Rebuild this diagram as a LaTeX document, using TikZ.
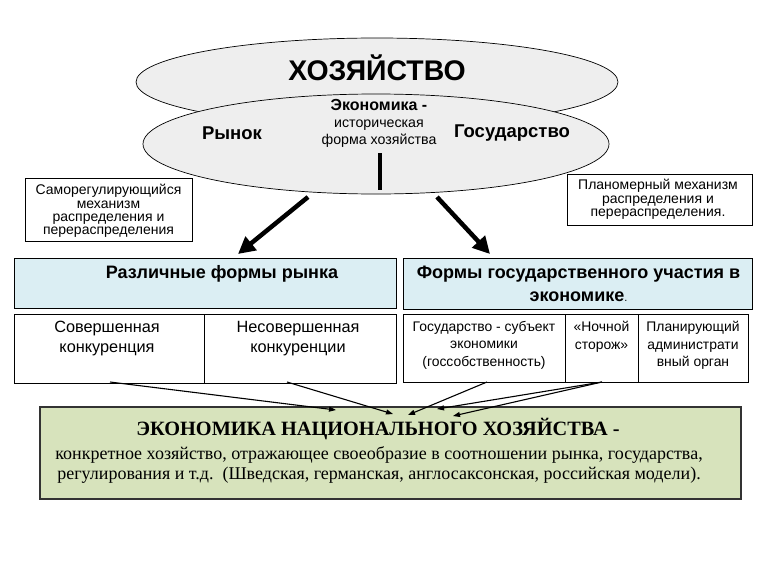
\documentclass[tikz,border=0pt]{standalone}
\usepackage{fontspec}
\setmainfont{Liberation Sans}
\newfontfamily\seriffont{Liberation Serif}
\usetikzlibrary{arrows.meta,shapes.geometric}
\definecolor{ellfill}{HTML}{EEEEEE}
\definecolor{bluefill}{HTML}{DBEEF3}
\definecolor{greenfill}{HTML}{D7E3BC}
\definecolor{edgegray}{HTML}{333333}
\begin{document}
\begin{tikzpicture}[x=1pt,y=-1pt,
  ell/.style={ellipse, draw=black, line width=0.7pt, fill=ellfill, inner sep=0pt},
  plainbox/.style={draw=black, line width=0.8pt, fill=white, inner sep=0pt},
  bluebox/.style={draw=black, line width=0.8pt, fill=bluefill, inner sep=0pt},
  greenbox/.style={draw=edgegray, line width=1.2pt, fill=greenfill, inner sep=0pt},
  txt/.style={inner sep=0pt, align=center},
  toptxt/.style={inner sep=0pt, align=center, anchor=north},
  bigarrow/.style={line width=4.5pt, -{Triangle[length=17pt,width=17pt]}},
  thinarrow/.style={line width=1.1pt, -{Triangle[length=7pt,width=5pt]}}
]
\useasboundingbox (0,0) rectangle (771,573);
\fill[white] (0,0) rectangle (771,573);

% ellipses
\node[ell, minimum width=482pt, minimum height=88pt] (hoz) at (377,82) {};
\node[txt, font=\fontsize{28.4}{32}\selectfont\bfseries] (hoztxt) at (377,68) {ХОЗЯЙСТВО};
\node[ell, minimum width=466pt, minimum height=100pt] (eco) at (376,144) {};
\node[txt, font=\fontsize{16}{19}\selectfont\bfseries] (ecotitle) at (379,105) {Экономика -};
\node[txt, font=\fontsize{14.2}{17}\selectfont] (ecotxt) at (379,134) {историческая\\форма хозяйства};
\node[txt, font=\fontsize{18.5}{22}\selectfont\bfseries] (market) at (232,133) {Рынок};
\node[txt, font=\fontsize{18.5}{22}\selectfont\bfseries] (state) at (512,133) {Государство};

% vertical bar
\coordinate (vtop) at (380,153);
\coordinate (vbot) at (380,190);
\draw[line width=4pt] (vtop) -- (vbot);

% side boxes
\node[plainbox, minimum width=167pt, minimum height=63pt] (selfreg) at (108.5,209.5) {};
\node[txt, font=\fontsize{14}{13.2}\selectfont] (selfregtxt) at (108.5,211) {Саморегулирующийся\\механизм\\распределения и\\перераспределения};
\node[plainbox, minimum width=185pt, minimum height=51pt] (plan) at (659.5,199.5) {};
\node[txt, font=\fontsize{14}{13.5}\selectfont] (plantxt) at (658,199.5) {Планомерный механизм\\распределения и\\перераспределения.};

% big arrows
\coordinate (la0) at (308,197);
\coordinate (la1) at (238,254);
\coordinate (ra0) at (437,197);
\coordinate (ra1) at (490,254);
\draw[bigarrow] (la0) -- (la1);
\draw[bigarrow] (ra0) -- (ra1);

% blue headers
\node[bluebox, minimum width=382pt, minimum height=50pt] (forms) at (205,283) {};
\node[txt, font=\fontsize{18}{21}\selectfont\bfseries] (formstxt) at (222,274) {Различные формы рынка};
\node[bluebox, minimum width=349pt, minimum height=51pt] (gov) at (577.5,283.5) {};
\node[txt, font=\fontsize{18}{23}\selectfont\bfseries] (govtxt) at (578.5,284) {Формы государственного участия в\\экономике{\mdseries\fontsize{11}{11}\selectfont.}};

% lower boxes
\node[plainbox, minimum width=190pt, minimum height=69pt] (perf) at (109,348.5) {};
\node[plainbox, minimum width=192pt, minimum height=69pt] (imperf) at (300,348.5) {};
\node[toptxt, font=\fontsize{16.3}{20}\selectfont] (perftxt) at (107,321) {Совершенная\\конкуренция};
\node[toptxt, font=\fontsize{16.3}{20}\selectfont] (imperftxt) at (298,321) {Несовершенная\\конкуренции};

\node[plainbox, minimum width=162pt, minimum height=68pt] (subj) at (484,348) {};
\node[plainbox, minimum width=73pt, minimum height=68pt] (night) at (601.5,348) {};
\node[plainbox, minimum width=110pt, minimum height=68pt] (admin) at (693,348) {};
\node[toptxt, font=\fontsize{13.9}{17.5}\selectfont] (subjtxt) at (484,321) {Государство - субъект\\экономики\\(госсобственность)};
\node[toptxt, font=\fontsize{13.9}{17.5}\selectfont] (nighttxt) at (601.5,321) {«Ночной\\сторож»};
\node[toptxt, font=\fontsize{13.9}{17.5}\selectfont] (admintxt) at (693,321) {Планирующий\\администрати\\вный орган};

% green box
\node[greenbox, minimum width=701pt, minimum height=92pt] (nat) at (390.5,453) {};
\node[txt, font=\seriffont\fontsize{20.3}{22}\selectfont\bfseries] (nattitle) at (378,429) {ЭКОНОМИКА НАЦИОНАЛЬНОГО ХОЗЯЙСТВА -};
\node[txt, font=\seriffont\fontsize{18}{20.5}\selectfont] (nattxt) at (379,465) {конкретное хозяйство, отражающее своеобразие в соотношении рынка, государства,\\регулирования и т.д.\ \ (Шведская, германская, англосаксонская, российская модели).};

% thin arrows
\coordinate (t1s) at (110,382);
\coordinate (t1e) at (336,410);
\coordinate (t2s) at (287,382);
\coordinate (t2e) at (393,414);
\coordinate (t3s) at (487,382);
\coordinate (t3e) at (408,415);
\coordinate (t4s) at (602,382);
\coordinate (t4e) at (437,409);
\coordinate (t5e) at (453,416);
\draw[thinarrow] (t1s) -- (t1e);
\draw[thinarrow] (t2s) -- (t2e);
\draw[thinarrow] (t3s) -- (t3e);
\draw[thinarrow] (t4s) -- (t4e);
\draw[thinarrow] (t4s) -- (t5e);
\end{tikzpicture}
\end{document}
